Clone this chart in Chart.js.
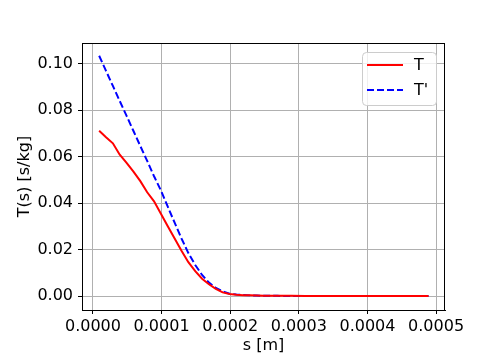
<!DOCTYPE html>
<html lang="en">
<head>
<meta charset="UTF-8">
<title>T(s)</title>
<script src="https://cdn.jsdelivr.net/npm/chart.js@4.4.1/dist/chart.umd.min.js"></script>
<style>
body { margin: 0; background: #fff; }
#chart { display: block; }
</style>
</head>
<body>
<canvas id="chart" width="484" height="363"></canvas>
<script>
// s [m]
const sValues = [0.000009, 0.000019, 0.000029, 0.000039, 0.000049, 0.000059, 0.000069, 0.000079,
    0.000089, 0.000099, 0.000109, 0.000119, 0.000129, 0.000139, 0.000149, 0.000159,
    0.000169, 0.000179, 0.000189, 0.000199, 0.000209, 0.000219, 0.000229, 0.000239, 0.000249,
    0.000269, 0.000289, 0.000309, 0.000329, 0.000349, 0.000369, 0.000389, 0.000409,
    0.000429, 0.000449, 0.000469, 0.000489];
// T(s) [s/kg]
const tValues = [0.0712, 0.0684, 0.0658, 0.0609, 0.0574, 0.0536, 0.0495, 0.0447,
    0.0408, 0.0355, 0.0301, 0.0248, 0.0195, 0.0146, 0.0107, 0.0075,
    0.0051, 0.0031, 0.0016, 0.0009, 0.0006, 0.0004, 0.0003, 0.0002, 0.0001,
    0.0001, 0.0001, 0, 0, 0, 0, 0, 0,
    0, 0, 0, 0];
const tPrimeValues = [0.1035, 0.0970, 0.0905, 0.0840, 0.0776, 0.0711, 0.0646, 0.0582,
    0.0516, 0.0455, 0.0385, 0.0316, 0.0248, 0.0185, 0.0134, 0.0091,
    0.0058, 0.0035, 0.0020, 0.0010, 0.0007, 0.0005, 0.0003, 0.0002, 0.0001,
    0.0001, 0, 0, 0, 0, 0, 0, 0,
    0, 0, 0, 0];
const xTicks = [0, 0.0001, 0.0002, 0.0003, 0.0004, 0.0005];
const yTicks = [0, 0.02, 0.04, 0.06, 0.08, 0.10];

const toPoints = (ys) => sValues.map((x, i) => ({ x: x, y: ys[i] }));

Chart.defaults.font.family = "'DejaVu Sans', sans-serif";
Chart.defaults.font.size = 16;
Chart.defaults.color = '#000';

// frame round the plot + matplotlib-like legend box
const framePlugin = {
    id: 'frame',
    afterDraw(chart) {
        const { ctx, chartArea: a } = chart;
        ctx.save();
        ctx.strokeStyle = '#000';
        ctx.lineWidth = 1;
        ctx.strokeRect(Math.round(a.left) + 0.5, Math.round(a.top) + 0.5,
            Math.round(a.right - a.left) - 1, Math.round(a.bottom - a.top));

        // legend
        const lx = 362, ly = 52, lw = 74, lh = 53, r = 4;
        ctx.beginPath();
        ctx.roundRect(lx + 0.5, ly + 0.5, lw, lh, r);
        ctx.fillStyle = 'rgba(255,255,255,0.8)';
        ctx.fill();
        ctx.strokeStyle = '#cccccc';
        ctx.stroke();
        chart.data.datasets.forEach((ds, i) => {
            const y = 65 + i * 25;
            ctx.beginPath();
            ctx.setLineDash(ds.borderDash || []);
            ctx.strokeStyle = ds.borderColor;
            ctx.lineWidth = ds.borderWidth;
            ctx.moveTo(367, y);
            ctx.lineTo(403, y);
            ctx.stroke();
            ctx.setLineDash([]);
            ctx.fillStyle = '#000';
            ctx.font = "16px 'DejaVu Sans'";
            ctx.textBaseline = 'middle';
            ctx.textAlign = 'left';
            ctx.fillText(ds.label, 414, y + 1);
        });
        ctx.restore();
    }
};

new Chart(document.getElementById('chart'), {
    type: 'line',
    data: {
        datasets: [{
            label: 'T',
            data: toPoints(tValues),
            borderColor: '#ff0000',
            borderWidth: 2,
            pointRadius: 0,
            tension: 0,
            fill: false
        }, {
            label: "T'",
            data: toPoints(tPrimeValues),
            borderColor: '#0000ff',
            borderWidth: 2,
            borderDash: [7, 3],
            pointRadius: 0,
            tension: 0,
            fill: false
        }]
    },
    options: {
        responsive: false,
        animation: false,
        layout: { padding: { top: 43, right: 39, left: 0, bottom: 0 } },
        plugins: {
            legend: { display: false },
            tooltip: { enabled: false }
        },
        scales: {
            x: {
                type: 'linear',
                min: -0.000016,
                max: 0.000513,
                afterBuildTicks: (scale) => { scale.ticks = xTicks.map(v => ({ value: v })); },
                afterFit: (scale) => { scale.height = 53; },
                ticks: {
                    padding: 3,
                    maxRotation: 0,
                    callback: (v) => v.toFixed(4)
                },
                grid: { color: '#b0b0b0', lineWidth: 1, tickColor: '#000', tickLength: 4 },
                border: { display: true, color: '#000', width: 1 },
                title: { display: true, text: 's [m]', padding: { top: 0, bottom: 8 } }
            },
            y: {
                min: -0.006,
                max: 0.109,
                afterBuildTicks: (scale) => { scale.ticks = yTicks.map(v => ({ value: v })); },
                afterFit: (scale) => { scale.width = 82; },
                ticks: {
                    padding: 5,
                    callback: (v) => v.toFixed(2)
                },
                grid: { color: '#b0b0b0', lineWidth: 1, tickColor: '#000', tickLength: 4 },
                border: { display: true, color: '#000', width: 1 },
                title: { display: true, text: 'T(s) [s/kg]', padding: { top: 15, bottom: 0 } }
            }
        }
    },
    plugins: [framePlugin]
});
</script>
</body>
</html>
